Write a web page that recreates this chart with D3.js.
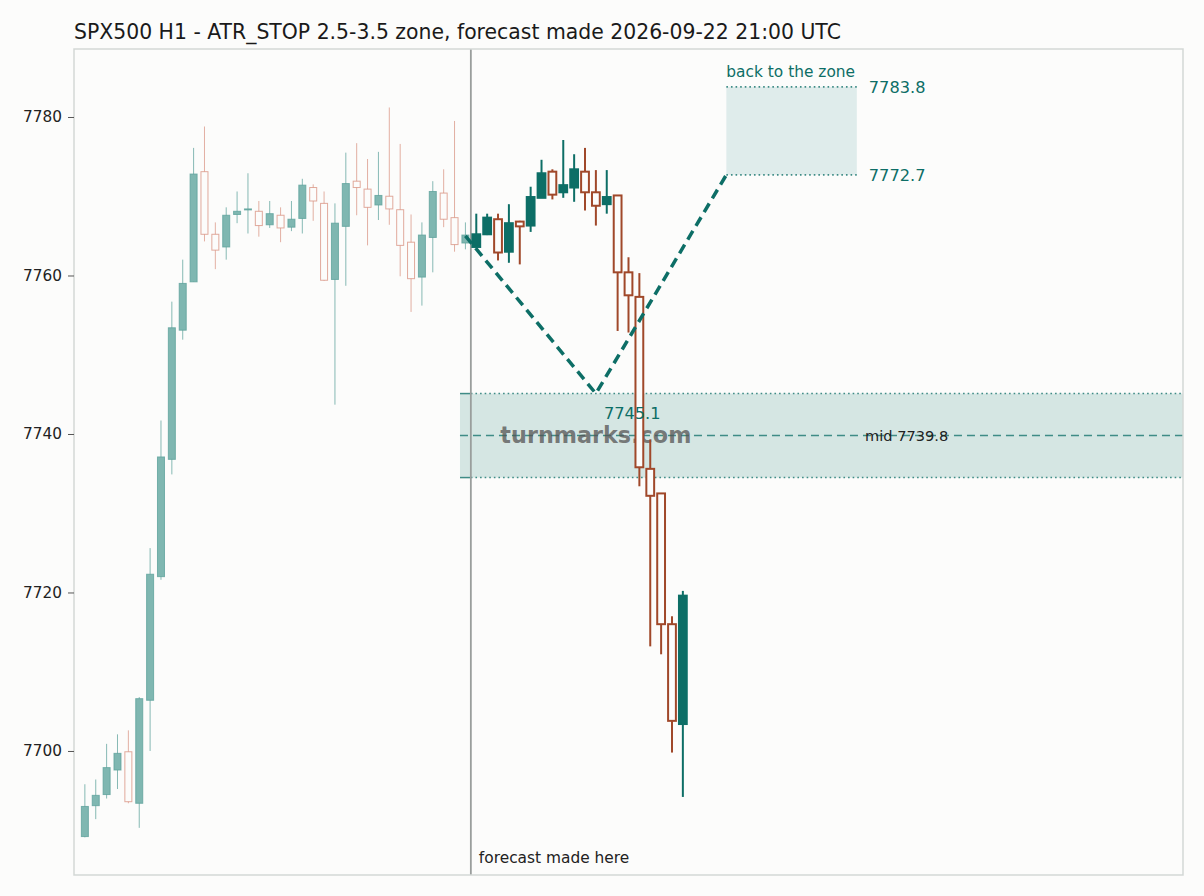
<!DOCTYPE html>
<html><head><meta charset="utf-8">
<script src="https://cdn.jsdelivr.net/npm/d3@7"></script>
<style>
html,body{margin:0;padding:0;background:#fcfcfb;}
svg{display:block;font-family:"DejaVu Sans",sans-serif;}
</style></head>
<body>
<svg id="chart" width="1204" height="896"></svg>
<script>
// ---------- data ----------
const title = "SPX500 H1 - ATR_STOP 2.5-3.5 zone, forecast made 2026-09-22 21:00 UTC";
const yTicks = [7700, 7720, 7740, 7760, 7780];

const histOpen  = [7689.2,7693.1,7694.5,7697.6,7699.9,7693.4,7706.4,7722.0,7736.8,7753.1,7759.2,7773.1,7765.2,7763.6,7767.7,7768.3,7768.1,7766.4,7767.6,7766.1,7767.2,7771.1,7769.1,7759.5,7766.2,7771.9,7770.9,7768.9,7770.0,7768.3,7764.2,7759.8,7764.8,7770.4,7767.3,7764.1];
const histHigh  = [7695.8,7696.4,7700.9,7702.1,7702.6,7706.8,7725.6,7741.7,7756.7,7762.0,7776.1,7778.8,7766.7,7768.6,7770.6,7772.9,7769.4,7769.4,7768.6,7769.4,7772.2,7771.5,7770.6,7769.1,7775.5,7776.7,7774.7,7775.6,7781.2,7776.6,7767.7,7766.7,7771.9,7773.4,7779.5,7766.7];
const histLow   = [7689.1,7691.4,7694.0,7695.2,7693.4,7690.3,7700.0,7721.6,7734.9,7751.9,7759.2,7764.3,7760.8,7762.0,7766.6,7765.3,7764.9,7766.0,7764.2,7765.6,7765.3,7766.9,7759.3,7743.7,7758.7,7767.6,7763.8,7767.0,7766.4,7759.9,7755.4,7756.2,7760.4,7766.1,7763.0,7763.3];
const histClose = [7693.0,7694.4,7697.9,7699.7,7693.6,7706.6,7722.3,7737.1,7753.4,7759.0,7772.8,7765.2,7763.2,7767.6,7768.1,7768.4,7766.3,7767.8,7766.0,7767.1,7771.4,7769.4,7759.4,7766.6,7771.6,7771.1,7768.6,7770.1,7768.4,7763.8,7759.6,7765.1,7770.6,7767.1,7763.9,7765.1];

const fcOpen  = [7763.6,7765.2,7767.1,7763.0,7766.8,7766.3,7769.8,7773.1,7770.5,7771.1,7773.1,7770.5,7769.0,7770.1,7760.4,7757.3,7735.6,7732.5,7716.0,7703.4];
const fcHigh  = [7767.8,7767.8,7767.8,7769.0,7766.9,7771.2,7774.6,7773.4,7777.1,7775.3,7776.1,7773.3,7773.3,7770.1,7762.3,7760.3,7739.3,7732.5,7717.0,7720.2];
const fcLow   = [7763.6,7765.1,7761.9,7761.6,7761.4,7765.5,7769.8,7769.6,7769.8,7769.3,7768.2,7766.3,7767.8,7753.0,7752.8,7733.4,7713.2,7712.2,7699.8,7694.2];
const fcClose = [7765.2,7767.3,7762.9,7766.6,7766.2,7769.9,7772.9,7770.2,7771.4,7773.4,7770.5,7768.8,7769.9,7760.4,7757.5,7735.8,7732.2,7716.0,7703.8,7719.6];

const pathIdx = [35, 47, 59];
const pathVal = [7765.0, 7745.1, 7772.7];
const zoneTop = 7745.1, zoneBottom = 7734.5, zoneMid = 7739.8;
const backTop = 7783.8, backBottom = 7772.7;
const backIdx = [59, 71];
const zoneStartIdx = 34.5, forecastIdx = 35.5;

// ---------- layout ----------
const W = 1204, H = 896;
const L = 74, R = 1183, T = 49, B = 875;
const svg = d3.select("#chart");
const x = d3.scaleLinear().domain([-1, 101]).range([L, R]);
const y = d3.scaleLinear().domain([7684.35, 7788.58]).range([B, T]);
const teal = "#0d6e66", brown = "#a0482a";

svg.append("rect").attr("width", W).attr("height", H).attr("fill", "#fcfcfb");
svg.append("defs").append("clipPath").attr("id", "clip")
  .append("rect").attr("x", L).attr("y", T).attr("width", R - L).attr("height", B - T);
const g = svg.append("g").attr("clip-path", "url(#clip)");

// zone band
g.append("rect").attr("x", x(zoneStartIdx)).attr("y", y(zoneTop))
  .attr("width", R - x(zoneStartIdx)).attr("height", y(zoneBottom) - y(zoneTop))
  .attr("fill", "#d5e6e3");
[zoneTop, zoneBottom].forEach(v => {
  g.append("line").attr("x1", x(zoneStartIdx)).attr("x2", x(forecastIdx))
    .attr("y1", y(v)).attr("y2", y(v)).attr("stroke", "#3f8c86").attr("stroke-width", 1.5);
  g.append("line").attr("x1", x(forecastIdx)).attr("x2", R)
    .attr("y1", y(v)).attr("y2", y(v)).attr("stroke", "#3f8c86").attr("stroke-width", 1.6)
    .attr("stroke-dasharray", "1.6,3");
});
g.append("line").attr("x1", x(zoneStartIdx)).attr("x2", R)
  .attr("y1", y(zoneMid)).attr("y2", y(zoneMid)).attr("stroke", "#3f8c86")
  .attr("stroke-width", 1.5).attr("stroke-dasharray", "8,5");

// back-to-zone box
g.append("rect").attr("x", x(backIdx[0])).attr("y", y(backTop))
  .attr("width", x(backIdx[1]) - x(backIdx[0])).attr("height", y(backBottom) - y(backTop))
  .attr("fill", "#dfeceb");
[backTop, backBottom].forEach(v => {
  g.append("line").attr("x1", x(backIdx[0])).attr("x2", x(backIdx[1]))
    .attr("y1", y(v)).attr("y2", y(v)).attr("stroke", "#3f8c86").attr("stroke-width", 1.6)
    .attr("stroke-dasharray", "1.6,3");
});

// forecast vertical line
g.append("line").attr("x1", x(forecastIdx)).attr("x2", x(forecastIdx))
  .attr("y1", T).attr("y2", B).attr("stroke", "#9a9e9c").attr("stroke-width", 1.8);

// watermark
g.append("text").attr("x", x(47)).attr("y", y(zoneMid)).attr("dy", "0.35em")
  .attr("text-anchor", "middle").attr("font-size", 22.3).attr("font-weight", "bold")
  .attr("fill", "#555").attr("fill-opacity", 0.75).text("turnmarks.com");

// history candles
const bw = 7;
const hist = histOpen.map((o, i) => ({i, o, h: histHigh[i], l: histLow[i], c: histClose[i]}));
const hg = g.append("g");
hist.forEach(d => {
  const up = d.c >= d.o;
  const col = up ? "#5fa39c" : "#d99584";
  hg.append("line").attr("x1", x(d.i)).attr("x2", x(d.i)).attr("y1", y(d.h)).attr("y2", y(d.l))
    .attr("stroke", col).attr("stroke-opacity", 0.75).attr("stroke-width", 1);
  const top = y(Math.max(d.o, d.c)), bot = y(Math.min(d.o, d.c));
  hg.append("rect").attr("x", x(d.i) - bw / 2).attr("y", top)
    .attr("width", bw).attr("height", Math.max(bot - top, 1))
    .attr("fill", up ? "#7fb7b1" : "#fcfcfb")
    .attr("stroke", col).attr("stroke-opacity", 0.8).attr("stroke-width", 1);
});

// forecast candles
const fc = fcOpen.map((o, i) => ({i: i + 36, o, h: fcHigh[i], l: fcLow[i], c: fcClose[i]}));
const fg = g.append("g");
fc.forEach(d => {
  const up = d.c >= d.o;
  const col = up ? teal : brown;
  fg.append("line").attr("x1", x(d.i)).attr("x2", x(d.i)).attr("y1", y(d.h)).attr("y2", y(d.l))
    .attr("stroke", col).attr("stroke-width", 2);
  const top = y(Math.max(d.o, d.c)), bot = y(Math.min(d.o, d.c));
  fg.append("rect").attr("x", x(d.i) - 3.9).attr("y", top)
    .attr("width", 7.8).attr("height", Math.max(bot - top, 1))
    .attr("fill", up ? teal : "#fcfcfb").attr("stroke", col).attr("stroke-width", 2);
});

// dashed path
const line = d3.line().x(d => x(d[0])).y(d => y(d[1]));
g.append("path").datum(pathIdx.map((v, i) => [v, pathVal[i]]))
  .attr("d", line).attr("fill", "none").attr("stroke", teal)
  .attr("stroke-width", 3.5).attr("stroke-dasharray", "10,6");

// frame
svg.append("rect").attr("x", L).attr("y", T).attr("width", R - L).attr("height", B - T)
  .attr("fill", "none").attr("stroke", "#d3d8d6").attr("stroke-width", 1.5);

// y axis
const ax = svg.append("g").attr("transform", `translate(${L},0)`)
  .call(d3.axisLeft(y).tickValues(yTicks).tickSize(6).tickPadding(6).tickFormat(d3.format("d")));
ax.select(".domain").remove();
ax.selectAll(".tick line").attr("stroke", "#555");
ax.selectAll(".tick text").attr("font-size", 15.3).attr("fill", "#222")
  .attr("font-family", "DejaVu Sans, sans-serif");

// texts
svg.append("text").attr("x", L).attr("y", 39).attr("font-size", 20.4).attr("fill", "#1a1a1a").text(title);
svg.append("text").attr("x", x(backIdx[0])).attr("y", 77).attr("font-size", 15.4).attr("fill", teal).text("back to the zone");
svg.append("text").attr("x", x(backIdx[1]) + 12).attr("y", y(backTop)).attr("dy", "0.35em")
  .attr("font-size", 16.2).attr("fill", teal).text(backTop.toFixed(1));
svg.append("text").attr("x", x(backIdx[1]) + 12).attr("y", y(backBottom)).attr("dy", "0.35em")
  .attr("font-size", 16.2).attr("fill", teal).text(backBottom.toFixed(1));
svg.append("text").attr("x", x(pathIdx[1]) + 8).attr("y", y(zoneTop) + 20).attr("dy", "0.35em")
  .attr("font-size", 16.2).attr("fill", teal).text(pathVal[1].toFixed(1));
svg.append("text").attr("x", 865).attr("y", y(zoneMid)).attr("dy", "0.35em")
  .attr("font-size", 14.6).attr("fill", "#222").text("mid " + zoneMid.toFixed(1));
svg.append("text").attr("x", x(forecastIdx) + 8).attr("y", 858).attr("dy", "0.35em")
  .attr("font-size", 15.4).attr("fill", "#222").text("forecast made here");
</script>
</body></html>
